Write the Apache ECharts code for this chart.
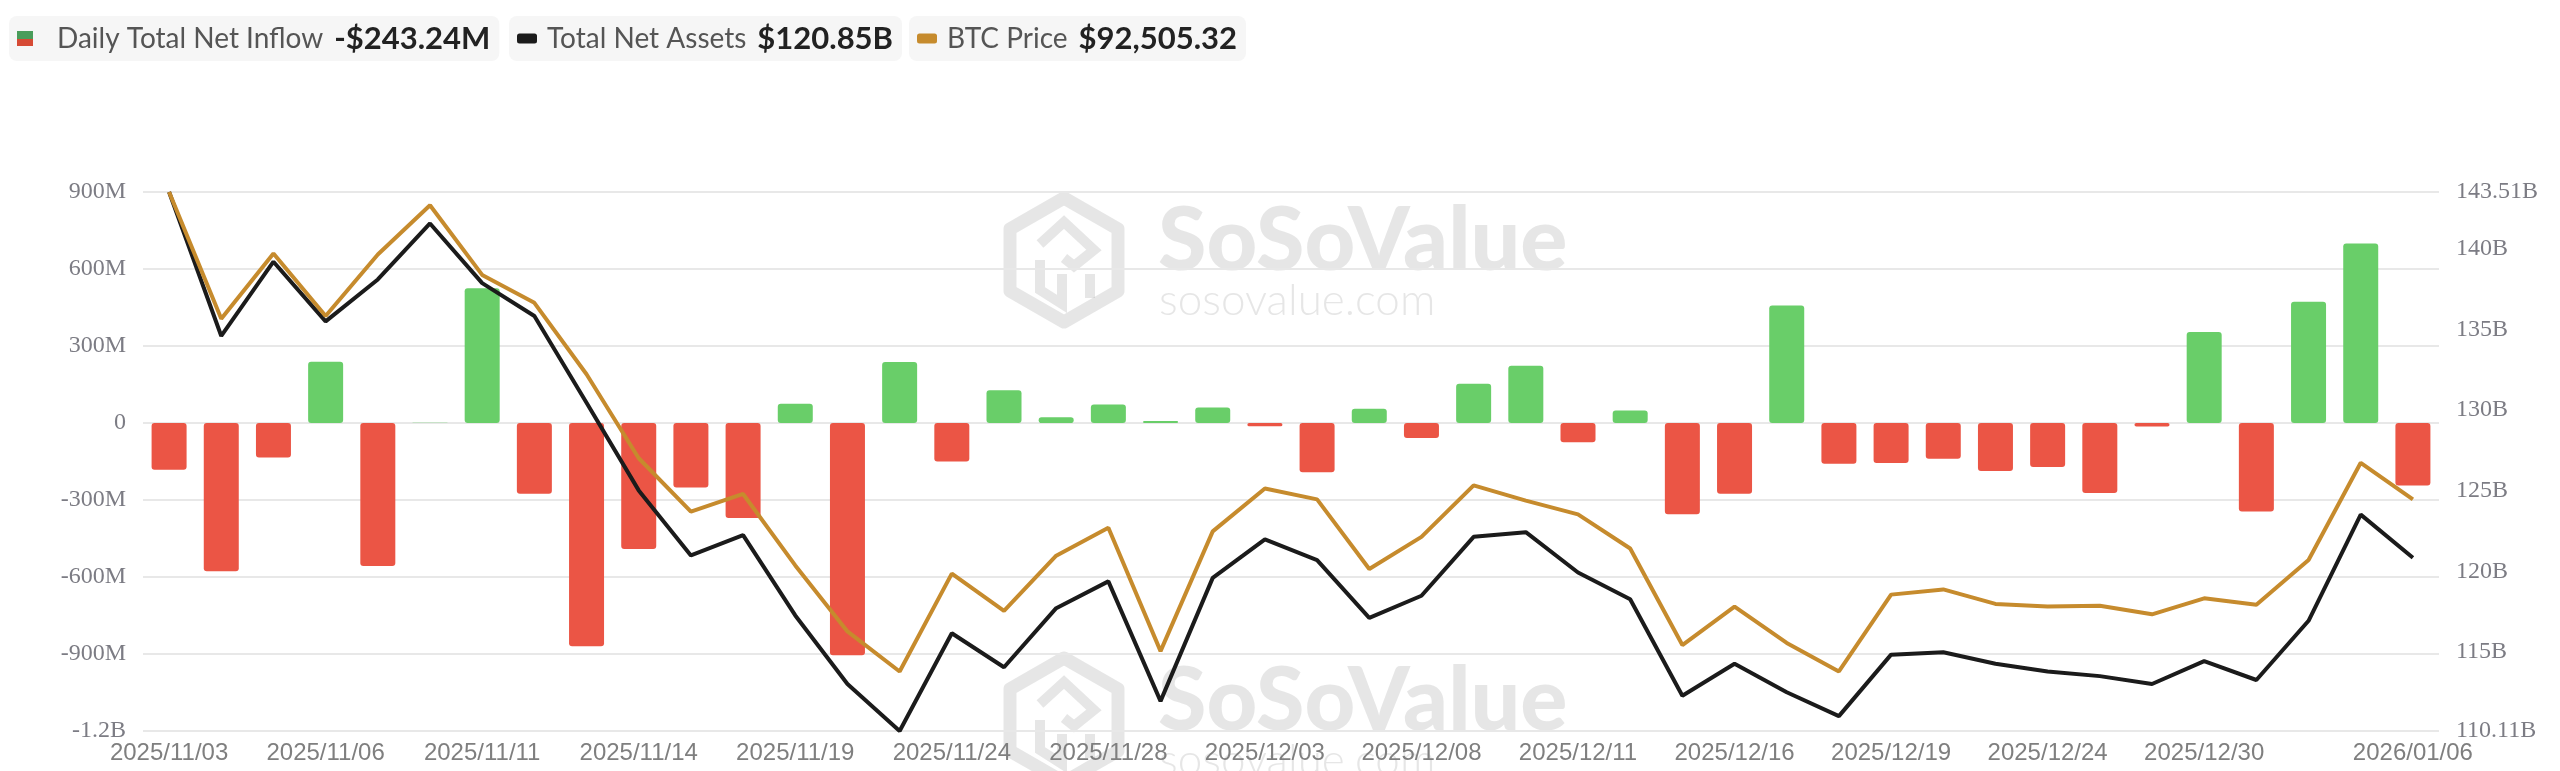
<!DOCTYPE html>
<html>
<head>
<meta charset="utf-8">
<title>Bitcoin spot ETF net inflow</title>
<script src="https://cdn.jsdelivr.net/npm/echarts@6.0.0/dist/echarts.min.js"></script>
<style>
  html, body { margin: 0; padding: 0; background: #fff; }
  #chart { width: 2560px; height: 771px; }
</style>
</head>
<body>
<div id="chart"></div>
<script>
// trading days
const categories = [
  '2025/11/03', '2025/11/04', '2025/11/05', '2025/11/06', '2025/11/07',
  '2025/11/10', '2025/11/11', '2025/11/12', '2025/11/13', '2025/11/14',
  '2025/11/17', '2025/11/18', '2025/11/19', '2025/11/20', '2025/11/21',
  '2025/11/24', '2025/11/25', '2025/11/26', '2025/11/28',
  '2025/12/01', '2025/12/02', '2025/12/03', '2025/12/04', '2025/12/05',
  '2025/12/08', '2025/12/09', '2025/12/10', '2025/12/11', '2025/12/12',
  '2025/12/15', '2025/12/16', '2025/12/17', '2025/12/18', '2025/12/19',
  '2025/12/22', '2025/12/23', '2025/12/24', '2025/12/26',
  '2025/12/29', '2025/12/30', '2025/12/31', '2026/01/02',
  '2026/01/05', '2026/01/06'
];

// daily total net inflow, million USD
const netInflow = [
  -182, -578, -134, 239, -557, 1.2, 525, -276, -870, -491,
  -251, -370, 75, -905, 238, -150, 128, 22, 72,
  8, 60, -13, -192, 56, -58, 153, 223, -75, 49,
  -356, -276, 458, -159, -156, -139, -187, -171, -273,
  -14, 355, -345, 472, 699, -243.24
];

// total net assets, billion USD
const totalNetAssets = [
  143.51, 134.59, 139.19, 135.49, 138.09, 141.56, 137.86, 135.83, 130.45, 125.02,
  120.99, 122.25, 117.27, 113.02, 110.11, 116.17, 114.06, 117.72, 119.38,
  111.96, 119.60, 121.99, 120.70, 117.12, 118.49, 122.14, 122.43, 119.93, 118.27,
  112.29, 114.28, 112.51, 111.03, 114.84, 114.99, 114.28, 113.80, 113.51,
  113.02, 114.44, 113.27, 116.94, 123.52, 120.85
];

// BTC price, USD
const btcPrice = [
  106700, 100840, 103860, 100970, 103810, 106090, 102870, 101580, 98280, 94400,
  91930, 92750, 89450, 86400, 84550, 89070, 87350, 89900, 91190,
  85490, 91020, 93000, 92500, 89285, 90770, 93150, 92440, 91810, 90230,
  85770, 87550, 85870, 84550, 88100, 88340, 87670, 87550, 87590,
  87190, 87930, 87630, 89700, 94190, 92505.32
];

const GREEN = '#69ce69';
const RED = '#eb5545';
const BLACK = '#1b1b1b';
const GOLD = '#c68b2d';

const last = arr => arr[arr.length - 1];

function fmtInflow(v) {
  return (v < 0 ? '-' : '') + '$' + Math.abs(v).toFixed(2) + 'M';
}

function fmtAssets(v) {
  return '$' + v.toFixed(2) + 'B';
}

function fmtPrice(v) {
  return '$' + v.toLocaleString('en-US', { minimumFractionDigits: 2, maximumFractionDigits: 2 });
}

const legendValues = {
  'Daily Total Net Inflow': fmtInflow(last(netInflow)),
  'Total Net Assets': fmtAssets(last(totalNetAssets)),
  'BTC Price': fmtPrice(last(btcPrice))
};

// one boxed legend per series
function makeLegend(name, left, icon, w, h, gap, color) {
  return {
    data: [{ name: name, icon: icon, itemStyle: { color: color } }],
    left: left,
    top: 16,
    itemWidth: w,
    itemHeight: h,
    padding: [7, 9, 7, 8],
    backgroundColor: '#f6f6f6',
    borderRadius: 8,
    selectedMode: false,
    formatter: n => `{n|${n}}{v|${legendValues[n]}}`,
    textStyle: {
      rich: {
        n: {
          fontFamily: 'Lato',
          fontSize: 28,
          color: '#555',
          lineHeight: 31,
          padding: [0, 0, 0, gap]
        },
        v: {
          fontFamily: 'Lato',
          fontSize: 31,
          fontWeight: 'bold',
          color: '#222',
          lineHeight: 31,
          padding: [0, 0, 0, 11]
        }
      }
    }
  };
}

const barIconColor = new echarts.graphic.LinearGradient(0, 0, 0, 1, [
  { offset: 0, color: '#4a9d5b' },
  { offset: 0.5, color: '#4a9d5b' },
  { offset: 0.5, color: '#d64a35' },
  { offset: 1, color: '#d64a35' }
]);

// SoSoValue watermark, drawn twice
function watermark(dx, dy) {
  const c = 'rgba(150,150,150,0.24)';
  const p = pts => pts.map(q => [q[0] + dx, q[1] + dy]);
  return [
    {
      type: 'polygon',
      shape: { points: p([[54, 0], [108, 31], [108, 93], [54, 124], [0, 93], [0, 31]]) },
      style: { fill: 'none', stroke: c, lineWidth: 13, lineJoin: 'round' },
      silent: true
    },
    {
      type: 'polyline',
      shape: { points: p([[30, 46], [54, 24], [84, 52], [64, 68], [54, 60]]) },
      style: { fill: 'none', stroke: c, lineWidth: 10 },
      silent: true
    },
    {
      type: 'polyline',
      shape: { points: p([[30, 62], [30, 92], [52, 106], [52, 76]]) },
      style: { fill: 'none', stroke: c, lineWidth: 10 },
      silent: true
    },
    {
      type: 'polyline',
      shape: { points: p([[80, 76], [80, 100]]) },
      style: { fill: 'none', stroke: c, lineWidth: 10 },
      silent: true
    },
    {
      type: 'text',
      x: dx + 148,
      y: dy + 44,
      style: {
        text: 'SoSoValue',
        fill: c,
        font: '900 88px Lato',
        textVerticalAlign: 'middle',
        verticalAlign: 'middle'
      },
      silent: true
    },
    {
      type: 'text',
      x: dx + 149,
      y: dy + 103,
      style: {
        text: 'sosovalue.com',
        fill: c,
        font: '300 44px Lato',
        textVerticalAlign: 'middle',
        verticalAlign: 'middle'
      },
      silent: true
    }
  ];
}

const chart = echarts.init(document.getElementById('chart'));

const option = {
  animation: false,
  backgroundColor: '#fff',
  graphic: { elements: watermark(1010, 198).concat(watermark(1010, 658)) },
  legend: [
    makeLegend('Daily Total Net Inflow', 9, 'rect', 16, 15, 19, barIconColor),
    makeLegend('Total Net Assets', 509, 'roundRect', 20, 10, 5, BLACK),
    makeLegend('BTC Price', 909, 'roundRect', 20, 10, 5, GOLD)
  ],
  grid: { left: 143, right: 121, top: 192, bottom: 40 },
  xAxis: {
    type: 'category',
    data: categories,
    boundaryGap: true,
    axisLine: { show: false },
    axisTick: { show: false },
    axisLabel: {
      interval: idx => (idx % 3 === 0 && idx <= 39) || idx === categories.length - 1,
      color: '#7f7f7f',
      fontFamily: 'Liberation Sans',
      fontSize: 24,
      margin: 10
    }
  },
  yAxis: [
    {
      type: 'value',
      position: 'left',
      min: -1200,
      max: 900,
      interval: 300,
      axisLine: { show: false },
      axisTick: { show: false },
      axisLabel: {
        color: '#7c7c84',
        fontFamily: 'Liberation Serif',
        fontSize: 24,
        margin: 17,
        formatter: v => v === 0 ? '0' : Math.abs(v) >= 1000 ? (v / 1000) + 'B' : v + 'M'
      },
      splitLine: { lineStyle: { color: '#e8e8e8', width: 2 } }
    },
    {
      type: 'value',
      position: 'right',
      min: 110.11,
      max: 143.51,
      splitNumber: 6,
      axisLine: { show: false },
      axisTick: { show: false },
      splitLine: { show: false },
      axisLabel: {
        color: '#7c7c84',
        fontFamily: 'Liberation Serif',
        fontSize: 24,
        margin: 17,
        formatter: v => v + 'B'
      }
    },
    {
      type: 'value',
      show: false,
      min: 81800,
      max: 106700,
      splitLine: { show: false }
    }
  ],
  series: [
    {
      name: 'Daily Total Net Inflow',
      type: 'bar',
      yAxisIndex: 0,
      data: netInflow,
      barWidth: 35,
      itemStyle: {
        borderRadius: 3,
        color: p => (p.value >= 0 ? GREEN : RED)
      }
    },
    {
      name: 'Total Net Assets',
      type: 'line',
      yAxisIndex: 1,
      data: totalNetAssets,
      symbol: 'none',
      itemStyle: { color: BLACK },
      lineStyle: { color: BLACK, width: 4 }
    },
    {
      name: 'BTC Price',
      type: 'line',
      yAxisIndex: 2,
      data: btcPrice,
      symbol: 'none',
      itemStyle: { color: GOLD },
      lineStyle: { color: GOLD, width: 4 }
    }
  ]
};

chart.setOption(option);
</script>
</body>
</html>
